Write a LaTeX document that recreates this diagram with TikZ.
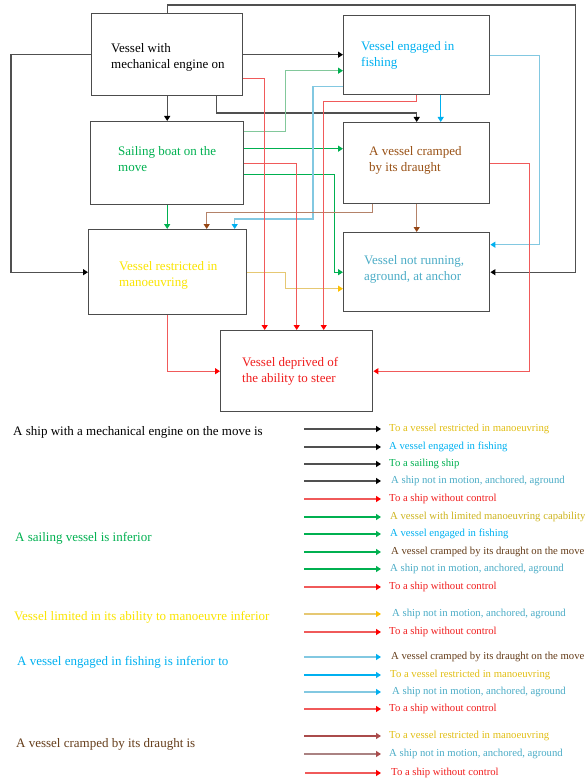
\documentclass[tikz,border=0pt]{standalone}
\usepackage{fontspec}
\setmainfont{Liberation Serif}
\usetikzlibrary{arrows.meta}
\definecolor{lnblk}{RGB}{80,80,80}
\definecolor{lnred}{RGB}{240,90,90}
\definecolor{tipred}{RGB}{255,0,0}
\definecolor{lngrn}{RGB}{0,176,80}
\definecolor{lnlgrn}{RGB}{130,200,155}
\definecolor{lnblu}{RGB}{0,176,240}
\definecolor{lnlblu}{RGB}{130,200,225}
\definecolor{lnbrn}{RGB}{180,130,105}
\definecolor{tipbrn}{RGB}{150,70,20}
\definecolor{lngld}{RGB}{230,200,115}
\definecolor{tipgld}{RGB}{255,192,0}
\definecolor{lndrd}{RGB}{170,75,75}
\definecolor{lnrbr}{RGB}{170,130,130}
\definecolor{txgrn}{RGB}{0,176,80}
\definecolor{txblu}{RGB}{0,176,240}
\definecolor{txbrn}{RGB}{152,80,20}
\definecolor{txyel}{RGB}{250,228,0}
\definecolor{txteal}{RGB}{75,172,198}
\definecolor{txred}{RGB}{240,30,30}
\definecolor{txgld}{RGB}{225,190,20}
\definecolor{txolv}{RGB}{205,180,30}
\definecolor{txdbr}{RGB}{100,60,25}

\begin{document}
\begin{tikzpicture}
[x=1pt, y=1pt,
 box/.style={draw=black!70, line width=1.4pt, anchor=north west, inner sep=0pt},
 txt/.style={anchor=west, inner sep=0pt, align=left, font=\fontsize{13}{16}\selectfont},
 lbl/.style={anchor=west, inner sep=0pt, font=\fontsize{13}{15}\selectfont},
 lgd/.style={anchor=west, inner sep=0pt, font=\fontsize{10.7}{12}\selectfont},
 ln/.style 2 args={line width=1.3pt, draw=#1, arrows={-{Triangle[width=6pt,length=5pt,color=#2]}}}]
\useasboundingbox (0,0) rectangle (584,-781);
% boxes
\node[box, minimum width=151, minimum height=82] (b1) at (91,-13) {};
\node[box, minimum width=153, minimum height=83] (b2) at (90,-121) {};
\node[box, minimum width=146, minimum height=79] (b3) at (343,-15) {};
\node[box, minimum width=146, minimum height=81] (b4) at (343,-122) {};
\node[box, minimum width=158, minimum height=85] (b5) at (88,-229) {};
\node[box, minimum width=146, minimum height=79] (b6) at (343,-232) {};
\node[box, minimum width=152, minimum height=81] (b7) at (220,-330) {};
\node[txt] (t1) at (111,-57) {Vessel with\\mechanical engine on};
\node[txt, text=txgrn] (t2) at (118,-159.5) {Sailing boat on the\\move};
\node[txt, text=txblu] (t3) at (361,-55) {Vessel engaged in\\fishing};
\node[txt, text=txbrn] (t4) at (369,-160) {A vessel cramped\\by its draught};
\node[txt, text=txyel] (t5) at (119,-275) {Vessel restricted in\\manoeuvring};
\node[txt, text=txteal] (t6) at (364,-269.5) {Vessel not running,\\aground, at anchor};
\node[txt, text=txred] (t7) at (242,-371) {Vessel deprived of\\the ability to steer};
% connectors
\draw[ln={lnblk}{black}] (b1.north) -- ++(0,8) -| ([xshift=85]b6.east) -- (b6.east);
\draw[ln={lnblk}{black}] (b1.west) -| ([xshift=-77]b5.west) -- (b5.west);
\draw[ln={lnblk}{black}] (b1.east) -- (b1.east -| b3.west);
\draw[ln={lnblk}{black}] (b1.south) -- (b2.north);
\draw[ln={lnblk}{black}] ([xshift=49]b1.south) |- ([yshift=9]b4.north) -- (b4.north);
\draw[ln={lnlgrn}{lngrn}] ([yshift=31.5]b2.east) -- ++(41,0) |- ([yshift=-15.5]b3.west);
\draw[ln={lngrn}{lngrn}] ([yshift=14.5]b2.east) -- ([yshift=14.5]b2.east -| b4.west);
\draw[ln={lngrn}{lngrn}] ([yshift=-11.5]b2.east) -- ++(90,0) |- (b6.west);
\draw[ln={lngrn}{lngrn}] (b2.south) -- (b2.south |- b5.north);
\draw[ln={lnlblu}{lnblu}] ([yshift=-31.5]b3.west) -- ++(-30,0) |- ([xshift=67,yshift=10]b5.north) -- ([xshift=67]b5.north);
\draw[ln={lnblu}{lnblu}] ([xshift=24]b3.south) -- ([xshift=24]b4.north);
\draw[ln={lnlblu}{lnblu}] (b3.east) -- ++(49,0) |- ([yshift=27.5]b6.east);
\draw[ln={lnbrn}{tipbrn}] ([xshift=-44]b4.south) -- ++(0,-8) -| ([xshift=39]b5.north);
\draw[ln={lnbrn}{tipbrn}] (b4.south) -- (b6.north);
\draw[ln={lngld}{tipgld}] (b5.east) -- ++(38,0) |- ([yshift=-16.5]b6.west);
\draw[ln={lnred}{tipred}] ([yshift=-24]b1.east) -| ([xshift=-32]b7.north);
\draw[ln={lnred}{tipred}] (b2.east) -| (b7.north);
\draw[ln={lnred}{tipred}] (b3.south) -- ++(0,-6) -| ([xshift=27]b7.north);
\draw[ln={lnred}{tipred}] (b4.east) -- ++(39,0) |- (b7.east);
\draw[ln={lnred}{tipred}] (b5.south) |- (b7.west);
% legend
\node[lbl] (l1) at (13,-432) {A ship with a mechanical engine on the move is};
\node[lbl, text=txgrn] (l2) at (15,-538) {A sailing vessel is inferior};
\node[lbl, text=txyel] (l3) at (14,-617) {Vessel limited in its ability to manoeuvre inferior};
\node[lbl, text=txblu] (l4) at (17,-662) {A vessel engaged in fishing is inferior to};
\node[lbl, text=txdbr] (l5) at (16,-744) {A vessel cramped by its draught is};
\node[lgd, text=txgld] (r1) at (389,-429) {To a vessel restricted in manoeuvring};
\node[lgd, text=txblu] (r2) at (389,-447) {A vessel engaged in fishing};
\node[lgd, text=txgrn] (r3) at (389,-464) {To a sailing ship};
\node[lgd, text=txteal] (r4) at (391,-481) {A ship not in motion, anchored, aground};
\node[lgd, text=txred] (r5) at (389,-499) {To a ship without control};
\node[lgd, text=txolv] (r6) at (390,-517) {A vessel with limited manoeuvring capability};
\node[lgd, text=txblu] (r7) at (390,-534) {A vessel engaged in fishing};
\node[lgd, text=txdbr] (r8) at (391,-552) {A vessel cramped by its draught on the move};
\node[lgd, text=txteal] (r9) at (390,-569) {A ship not in motion, anchored, aground};
\node[lgd, text=txred] (r10) at (389,-587) {To a ship without control};
\node[lgd, text=txteal] (r11) at (392,-614) {A ship not in motion, anchored, aground};
\node[lgd, text=txred] (r12) at (389,-632) {To a ship without control};
\node[lgd, text=txdbr] (r13) at (391,-657) {A vessel cramped by its draught on the move};
\node[lgd, text=txgld] (r14) at (390,-675) {To a vessel restricted in manoeuvring};
\node[lgd, text=txteal] (r15) at (392,-692) {A ship not in motion, anchored, aground};
\node[lgd, text=txred] (r16) at (389,-709) {To a ship without control};
\node[lgd, text=txgld] (r17) at (389,-736) {To a vessel restricted in manoeuvring};
\node[lgd, text=txteal] (r18) at (389,-754) {A ship not in motion, anchored, aground};
\node[lgd, text=txred] (r19) at (391,-773) {To a ship without control};
\draw[ln={lnblk}{black}] (304,-429) -- ([xshift=-8]r1.west);
\draw[ln={lnblk}{black}] (304,-447) -- ([xshift=-8]r2.west);
\draw[ln={lnblk}{black}] (304,-464) -- ([xshift=-8]r3.west);
\draw[ln={lnblk}{black}] (304,-481) -- ([xshift=-10]r4.west);
\draw[ln={lnred}{tipred}] (304,-499) -- ([xshift=-8]r5.west);
\draw[ln={lngrn}{lngrn}] (304,-517) -- ([xshift=-9]r6.west);
\draw[ln={lngrn}{lngrn}] (304,-534) -- ([xshift=-9]r7.west);
\draw[ln={lngrn}{lngrn}] (304,-552) -- ([xshift=-10]r8.west);
\draw[ln={lngrn}{lngrn}] (304,-569) -- ([xshift=-9]r9.west);
\draw[ln={lnred}{tipred}] (304,-587) -- ([xshift=-8]r10.west);
\draw[ln={lngld}{tipgld}] (304,-614) -- ([xshift=-11]r11.west);
\draw[ln={lnred}{tipred}] (304,-632) -- ([xshift=-8]r12.west);
\draw[ln={lnlblu}{lnblu}] (304,-657) -- ([xshift=-10]r13.west);
\draw[ln={lnblu}{lnblu}] (304,-675) -- ([xshift=-9]r14.west);
\draw[ln={lnlblu}{lnblu}] (304,-692) -- ([xshift=-11]r15.west);
\draw[ln={lnred}{tipred}] (304,-709) -- ([xshift=-8]r16.west);
\draw[ln={lndrd}{lndrd}] (304,-736) -- ([xshift=-8]r17.west);
\draw[ln={lnrbr}{lndrd}] (304,-754) -- ([xshift=-8]r18.west);
\draw[ln={lnred}{tipred}] (305,-773) -- ([xshift=-10]r19.west);
\end{tikzpicture}
\end{document}
